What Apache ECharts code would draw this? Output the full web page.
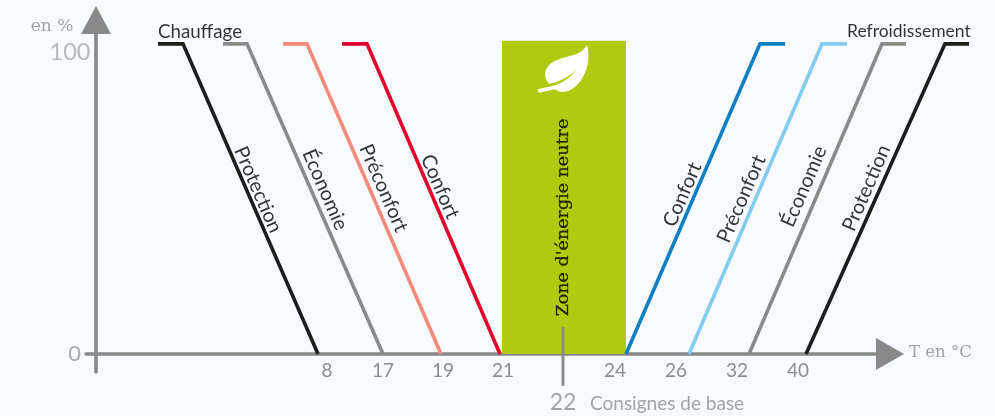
<!DOCTYPE html>
<html><head><meta charset="utf-8">
<style>html,body{margin:0;padding:0;background:#f7fbff}#c{width:995px;height:416px}</style>
<script src="https://cdn.jsdelivr.net/npm/echarts@6/dist/echarts.min.js"></script>
</head><body><div id="c"></div>
<script>
// Horizontal scale: schematic units along the temperature axis (the axis is not linear in °C)
const tempTicks = ['8','17','19','21','24','26','32','40'];
const tempTickPos = [231,287,347,407,519,580,641,702];
const lineNames = ['Protection','Économie','Préconfort','Confort','Confort','Préconfort','Économie','Protection'];
const lineColors = ['#1d1d1b','#8a8a8a','#f58a7a','#e4002b','#0f7fc1','#85caf0','#8a8a8a','#1d1d1b'];
const lineXs = [
  [62,87,222],[127,151,287],[187,211,345],[246,271,404],
  [530,664,689],[593,726,751],[653,786,810],[710,849,873]
];
const lineYs = [
  [100,100,0],[100,100,0],[100,100,0],[100,100,0],
  [0,100,100],[0,100,100],[0,100,100],[0,100,100]
];
const labelXs = [162,229,287.5,344,586.5,645.5,708,770.5];
const labelYs = [53,53,53.5,54,51.4,50,54,53.5];
const labelRot = [-66.5,-66.5,-66.5,-66.5,66.5,66.5,66.5,66.5];
const zoneX = [406,530];
const zoneTop = 101;
const baseX = 467;
const baseSpan = [-10.3,8.7];
const leafPath = 'path://M316 75C325 110 320 160 285 195C265 215 240 220 222 206L175 216L171 206L215 196C245 188 270 170 285 147C265 170 235 183 205 190C195 180 188 160 197 145C210 122 240 115 265 108C290 102 306 93 316 75Z';

const lineSeries = lineXs.map((xs,i)=>({
  type:'line', name:lineNames[i], symbol:'none', silent:true, z:3, clip:false,
  xAxisIndex:1, yAxisIndex:1,
  lineStyle:{color:lineColors[i],width:3.6,join:'miter',cap:'butt'},
  data:xs.map((x,k)=>[x,lineYs[i][k]])
}));
const labelSeries = {
  type:'scatter', symbolSize:0, silent:true, z:6, clip:false,
  data:lineNames.map((n,i)=>({
    value:[labelXs[i],labelYs[i]],
    label:{show:true,position:'inside',formatter:n,rotate:labelRot[i],
      fontFamily:'Lato',fontSize:20,color:'#000'}
  }))
};
const notes = [
  {value:[62,104],text:'Chauffage',size:18.8,color:'#000',family:'Lato',align:'left'},
  {value:[751,104],text:'Refroidissement',size:17.5,color:'#000',family:'Lato',align:'left'},
  {value:[-44,105.5],text:'en %',size:17,color:'#8c8c8c',family:'DejaVu Serif',align:'center'},
  {value:[813,0.3],text:'T en °C',size:16.5,color:'#8c8c8c',family:'DejaVu Serif',align:'left'},
  {value:[467,-15.8],text:'22',size:23,color:'#8c8c8c',family:'Lato',align:'center'},
  {value:[494,-16],text:'Consignes de base',size:19,color:'#8c8c8c',family:'Lato',align:'left'},
  {value:[-26,97.4],text:'100',size:23.5,color:'#a8a8a8',family:'Lato',align:'center'}
];
const noteSeries = {
  type:'scatter', symbolSize:0, silent:true, z:6, clip:false,
  data:notes.map(n=>({
    value:n.value,
    label:{show:true,position:'inside',formatter:n.text,fontSize:n.size,color:n.color,
      fontFamily:n.family,align:n.align,verticalAlign:'middle'}
  }))
};
const zoneSeries = {
  type:'line', data:[], silent:true, z:1,
  markArea:{silent:true,itemStyle:{color:'#b0cb0f',opacity:1},
    data:[[{coord:[zoneX[0],0]},{coord:[zoneX[1],zoneTop]}]]}
};
const zoneLabel = {
  type:'scatter', silent:true, z:6, symbolSize:0, clip:false,
  data:[{value:[(zoneX[0]+zoneX[1])/2-1,44],
    label:{show:true,position:'inside',formatter:"Zone d'énergie neutre",rotate:90,
      fontFamily:'DejaVu Serif',fontSize:17.5,color:'#000',textBorderColor:'#000',textBorderWidth:0.3}}]
};
const leaf = {
  type:'scatter', silent:true, z:5, symbol:leafPath, symbolSize:[51,48], clip:false,
  itemStyle:{color:'#fff',opacity:1}, data:[[467,92]]
};
const baseTick = {
  type:'line', symbol:'none', silent:true, z:5, clip:false,
  lineStyle:{color:'#8c8c8c',width:3},
  data:[[baseX,baseSpan[0]],[baseX,baseSpan[1]]]
};
const chart = echarts.init(document.getElementById('c'),null,{renderer:'canvas'});
chart.setOption({
  animation:false,
  backgroundColor:'#f7fbff',
  grid:[
    {left:86,right:105,top:20,bottom:44,containLabel:false},
    {left:86,right:15,top:20,bottom:44,containLabel:false}
  ],
  xAxis:[{type:'value',min:-10,max:794,splitLine:{show:false},
    axisLine:{onZero:true,show:true,symbol:['none','triangle'],symbolSize:[32,28],
      lineStyle:{color:'#888',width:3.6}},
    axisTick:{show:false},
    axisLabel:{customValues:tempTickPos,formatter:v=>tempTicks[tempTickPos.indexOf(v)],
      margin:-11,fontFamily:'Lato',fontSize:19,color:'#8c8c8c',showMinLabel:true,showMaxLabel:true}
  },{type:'value',gridIndex:1,min:-10,max:884,show:false}],
  yAxis:[{type:'value',min:-5.8,max:107.7,splitLine:{show:false},
    axisLine:{onZero:true,show:true,symbol:['none','triangle'],symbolSize:[30,28],
      lineStyle:{color:'#888',width:3.6}},
    axisTick:{show:false},
    axisLabel:{customValues:[0],margin:5,fontFamily:'Lato',fontSize:22,color:'#a8a8a8'}
  },{type:'value',gridIndex:1,min:-5.8,max:107.7,show:false}],
  series:[zoneSeries,baseTick,...lineSeries,labelSeries,noteSeries,zoneLabel,leaf]
});
</script></body></html>
